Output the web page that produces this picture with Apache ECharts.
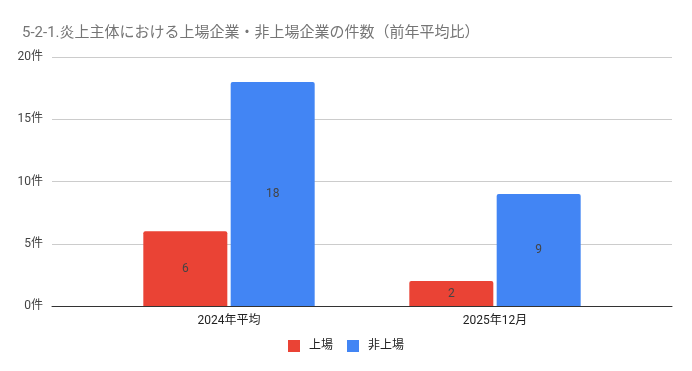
<!DOCTYPE html>
<html><head><meta charset="utf-8">
<script src="https://cdn.jsdelivr.net/npm/echarts@6/dist/echarts.min.js"></script>
<style>html,body{margin:0;padding:0;background:#fff}#c{width:692px;height:371px}</style>
</head><body><div id="c"></div>
<script>
const categories = ['2024年平均', '2025年12月'];
const listed = [6, 2];
const unlisted = [18, 9];
const yTicks = [0, 5, 10, 15, 20];
const FONT = "Roboto, 'Noto Sans CJK JP', sans-serif";
const chart = echarts.init(document.getElementById('c'));
chart.setOption({
  animation: false,
  title: { text: '5-2-1.炎上主体における上場企業・非上場企業の件数（前年平均比）', left: 17, top: 21,
    textStyle: { fontFamily: FONT, fontSize: 15, fontWeight: 'normal', color: '#757575' } },
  legend: { bottom: 14, itemWidth: 12, itemHeight: 12, itemGap: 14, icon: 'rect',
    textStyle: { fontFamily: FONT, fontSize: 12, color: '#222', padding: [0, 0, 0, 4] } },
  grid: [
    { left: 52, right: 20, top: 57, bottom: 65 },
    { left: 96, right: 64, top: 57, bottom: 65 }
  ],
  xAxis: [
    { type: 'category', gridIndex: 0, data: [''], axisLine: { lineStyle: { color: '#333' } }, axisTick: { show: false }, axisLabel: { show: false } },
    { type: 'category', gridIndex: 1, data: categories, axisLine: { show: false }, axisTick: { show: false },
      axisLabel: { fontFamily: FONT, fontSize: 12, color: '#222', margin: 9 } }
  ],
  yAxis: [
    { type: 'value', gridIndex: 0, min: yTicks[0], max: yTicks[yTicks.length - 1], interval: 5,
      axisLine: { show: false }, axisTick: { show: false },
      axisLabel: { formatter: v => v + '件', fontFamily: FONT, fontSize: 12, color: '#444', margin: 9 },
      splitLine: { lineStyle: { color: '#ccc' } } },
    { type: 'value', gridIndex: 1, min: yTicks[0], max: yTicks[yTicks.length - 1], interval: 5, show: false }
  ],
  series: [
    { name: '上場', type: 'bar', xAxisIndex: 1, yAxisIndex: 1, data: listed, barWidth: 84, barGap: '4%',
      itemStyle: { color: '#EA4335', borderRadius: [2, 2, 0, 0] },
      label: { show: true, position: 'inside', fontFamily: FONT, fontSize: 12, color: '#444' } },
    { name: '非上場', type: 'bar', xAxisIndex: 1, yAxisIndex: 1, data: unlisted, barWidth: 84, barGap: '4%',
      itemStyle: { color: '#4285F4', borderRadius: [2, 2, 0, 0] },
      label: { show: true, position: 'inside', fontFamily: FONT, fontSize: 12, color: '#444' } }
  ]
});
</script></body></html>
